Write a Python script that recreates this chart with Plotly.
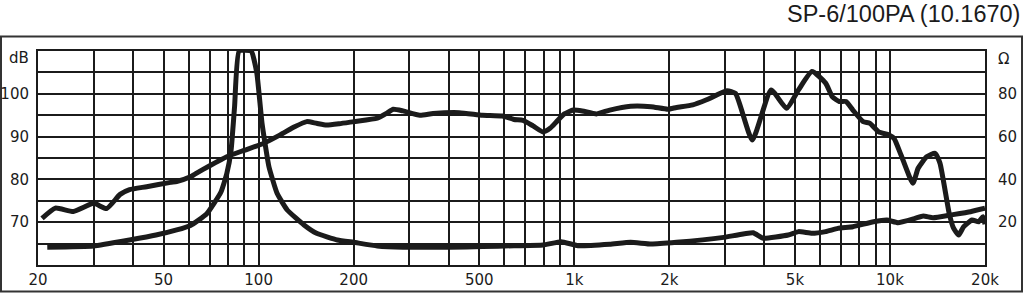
import math
import plotly.graph_objects as go

# ---------------- data ----------------
spl_freq = [20.6, 22.7, 25.9, 30, 33, 36.4, 39, 44.2, 52.6, 55, 60.8, 63, 70, 79.3, 90,
            103.5, 117, 130, 142, 152.6, 164, 180, 200, 237.6, 255, 267, 287, 324, 357,
            432, 512, 592, 644, 688, 740, 796, 840, 879, 930, 993, 1060, 1176, 1295,
            1508, 1751, 1981, 2107, 2372, 2624, 3045, 3240, 3663, 4202, 4702, 5130,
            5661, 6254, 6572, 6912, 7257, 7629, 8221, 8640, 9207, 9928, 10300, 10840,
            11820, 12280, 13070, 13900, 14400, 15400, 15900, 16500, 17100, 18200, 19100,
            19700, 20000]
spl_db = [70.9, 73.3, 72.5, 74.4, 73.2, 76.5, 77.6, 78.3, 79.3, 79.5, 80.6, 81.3, 83.2, 85.3, 86.8,
          88.4, 90.4, 92.3, 93.5, 93.1, 92.7, 93.0, 93.5, 94.3, 95.5, 96.4, 96.0, 95.0, 95.4,
          95.6, 95.0, 94.8, 94.0, 93.8, 92.5, 91.1, 92.0, 93.5, 95.3, 96.2, 96.0, 95.3, 96.2,
          97.1, 97.0, 96.4, 96.8, 97.4, 98.6, 100.7, 100.1, 89.2, 100.9, 96.6, 100.9,
          105.2, 102.5, 99.3, 98.2, 98.2, 96.2, 93.5, 93.1, 91.1, 90.4, 89.6, 85.7,
          79.1, 82.6, 85.3, 86.1, 83.8, 72.1, 68.6, 67.0, 68.9, 70.5, 70.1,
          71.3, 69.5]

imp_freq = [21.4, 30, 39, 47.3, 55, 60.8, 68.4, 75.9, 79.3, 81.8, 83.9, 86.7, 94.7, 98.7,
            102.5, 107.8, 114.4, 123.2, 139.2, 152.6, 177.6, 200, 237.6, 287, 405, 512,
            644, 796, 909, 1027, 1295, 1508, 1751, 2107, 2974, 3685, 3970, 4760, 5130,
            5661, 6254, 6834, 7629, 8867, 9780, 10600, 12000, 12740, 13700, 15600, 18000,
            20000]
imp_ohm = [8.3, 8.9, 11.7, 14.0, 16.4, 18.5, 23.8, 34.0, 42.8, 53.7, 74, 100, 100, 89.6,
           66.2, 45.9, 33.5, 25.7, 18.7, 14.8, 11.7, 10.6, 8.9, 8.3, 8.3, 8.6,
           9.0, 9.3, 10.9, 9.0, 9.7, 10.6, 9.8, 10.6, 12.9, 15.1, 12.5, 14.0, 15.6,
           14.8, 15.6, 17.1, 17.9, 20.2, 21.0, 19.8, 21.8, 22.9, 22.1, 23.4, 24.9,
           26.5]

x_tickvals = [20, 50, 100, 200, 500, 1000, 2000, 5000, 10000, 20000]
x_ticktext = ["20", "50", "100", "200", "500", "1k", "2k", "5k", "10k", "20k"]
x_minor = [30, 40, 60, 70, 80, 90, 300, 400, 600, 700, 800, 900,
           3000, 4000, 6000, 7000, 8000, 9000]

db_tickvals = [60, 65, 70, 75, 80, 85, 90, 95, 100, 105, 110]
db_ticktext = ["", "", "70", "", "80", "", "90", "", "100", "", ""]
ohm_tickvals = [20, 40, 60, 80]
ohm_ticktext = ["20", "40", "60", "80"]

title_text = "SP-6/100PA (10.1670)"

# ---------------- figure ----------------
INK = "#1b1b1b"
W, H = 1024, 293
ML, MR, MT, MB = 38, 39, 51, 28
PW, PH = W - ML - MR, H - MT - MB


def px_x(x):
    return (x - ML) / PW


def px_y(y):
    return (H - MB - y) / PH


fig = go.Figure()
fig.add_trace(go.Scatter(x=spl_freq, y=spl_db, mode="lines",
                         line=dict(color=INK, width=5, shape="spline", smoothing=0.5),
                         yaxis="y", showlegend=False))
fig.add_trace(go.Scatter(x=imp_freq, y=imp_ohm, mode="lines",
                         line=dict(color=INK, width=5, shape="spline", smoothing=0.4),
                         yaxis="y2", showlegend=False))

tick_font = dict(family="DejaVu Sans", size=15, color=INK)

fig.update_layout(
    width=W, height=H,
    margin=dict(l=ML, r=MR, t=MT, b=MB, pad=0, autoexpand=False),
    paper_bgcolor="white", plot_bgcolor="white",
    xaxis=dict(type="log", range=[math.log10(20), math.log10(20000)], automargin=False,
               tickmode="array", tickvals=x_tickvals, ticktext=x_ticktext,
               showgrid=True, gridcolor=INK, gridwidth=2,
               minor=dict(tickvals=x_minor, showgrid=True, gridcolor=INK, gridwidth=2),
               showline=True, mirror=True, linecolor=INK, linewidth=2,
               ticks="", zeroline=False, tickfont=tick_font, ticklabelstandoff=0),
    yaxis=dict(range=[60, 110], tickmode="array", tickvals=db_tickvals, ticktext=db_ticktext,
               automargin=False,
               showgrid=True, gridcolor=INK, gridwidth=2,
               showline=True, mirror=True, linecolor=INK, linewidth=2,
               ticks="", zeroline=False, tickfont=tick_font, ticklabelstandoff=4),
    yaxis2=dict(range=[0, 100], overlaying="y", side="right", tickmode="array",
                automargin=False,
                tickvals=ohm_tickvals, ticktext=ohm_ticktext, showgrid=False,
                zeroline=False, ticks="", tickfont=tick_font, ticklabelstandoff=12),
    shapes=[dict(type="rect", xref="paper", yref="paper",
                 x0=px_x(1), x1=px_x(1022), y0=px_y(291.5), y1=px_y(36.5),
                 line=dict(color="#333333", width=2), layer="below")],
    annotations=[
        dict(text=title_text, xref="paper", yref="paper", x=px_x(1022), y=px_y(14),
             xanchor="right", yanchor="middle", showarrow=False,
             font=dict(family="Liberation Sans", size=23.5, color=INK)),
        dict(text="dB", xref="paper", yref="paper", x=px_x(31), y=px_y(58.5),
             xanchor="right", yanchor="middle", showarrow=False, font=tick_font),
        dict(text="Ω", xref="paper", yref="paper", x=px_x(996), y=px_y(59),
             xanchor="left", yanchor="middle", showarrow=False, font=tick_font),
    ],
)

fig.write_html("out.html")
